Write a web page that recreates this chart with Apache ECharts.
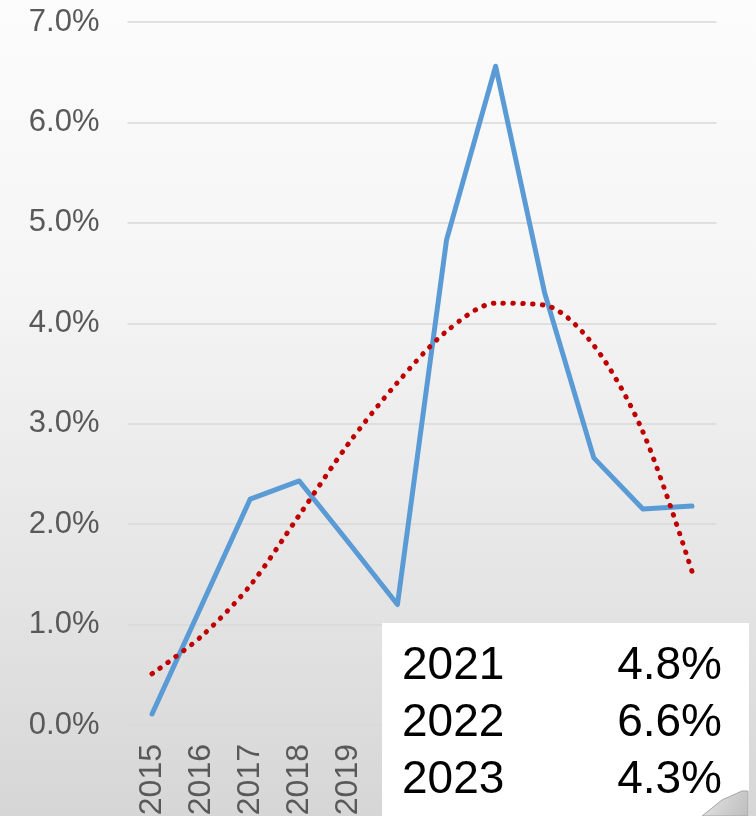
<!DOCTYPE html>
<html>
<head>
<meta charset="utf-8">
<script src="https://cdn.jsdelivr.net/npm/echarts@6/dist/echarts.min.js"></script>
<style>
  html, body { margin: 0; padding: 0; }
  #chart { width: 756px; height: 816px; }
</style>
</head>
<body>
<div id="chart"></div>
<script>
// categories and values (percent)
var years = ['2015', '2016', '2017', '2018', '2019', '2020', '2021', '2022', '2023', '2024', '2025', '2026'];
var growth = [0.11, 1.18, 2.25, 2.43, 1.82, 1.2, 4.83, 6.56, 4.3, 2.66, 2.15, 2.18];
var trend = [0.51, 0.88, 1.39, 2.09, 2.8, 3.41, 3.92, 4.2, 4.18, 3.78, 2.92, 1.53];
var yTicks = { min: 0, max: 7, step: 1 };

// overlay table rows
var boxYears = ['2021', '2022', '2023'];
var boxValues = ['4.8%', '6.6%', '4.3%'];

var chart = echarts.init(document.getElementById('chart'));

var boxText = [];
for (var i = 0; i < boxYears.length; i++) {
  boxText.push({
    type: 'text', left: 402, top: 643 + i * 57, z: 101,
    style: { text: boxYears[i], font: '46px "Liberation Sans", Arial, sans-serif', fill: '#000' }
  });
  boxText.push({
    type: 'text', right: 34, top: 643 + i * 57, z: 101,
    style: { text: boxValues[i], font: '46px "Liberation Sans", Arial, sans-serif', fill: '#000', textAlign: 'right' }
  });
}

chart.setOption({
  animation: false,
  backgroundColor: {
    type: 'linear', x: 0, y: 0, x2: 0, y2: 1,
    colorStops: [
      { offset: 0, color: '#fcfcfc' },
      { offset: 0.35, color: '#f5f5f5' },
      { offset: 0.75, color: '#e3e3e3' },
      { offset: 1, color: '#d6d6d6' }
    ]
  },
  grid: { left: 127.5, right: 39.5, top: 22, bottom: 91, outerBoundsMode: 'none' },
  xAxis: {
    type: 'category',
    data: years,
    boundaryGap: true,
    axisLine: { show: false },
    axisTick: { show: false },
    axisLabel: {
      rotate: 90, margin: 19, color: '#595959',
      fontSize: 32, fontFamily: '"Liberation Sans", Arial, sans-serif'
    }
  },
  yAxis: {
    type: 'value',
    min: yTicks.min, max: yTicks.max, interval: yTicks.step,
    axisLine: { show: false },
    axisTick: { show: false },
    splitLine: { lineStyle: { color: '#d9d9d9', width: 1.5 } },
    axisLabel: {
      margin: 28, color: '#595959',
      fontSize: 31, fontFamily: '"Liberation Sans", Arial, sans-serif',
      formatter: function (v) { return v.toFixed(1) + '%'; }
    }
  },
  series: [
    {
      name: 'growth', type: 'line', data: growth,
      symbol: 'none', z: 3,
      lineStyle: { color: '#5b9bd5', width: 5, cap: 'round', join: 'round' }
    },
    {
      name: 'trend', type: 'line', data: trend,
      symbol: 'none', smooth: 0.3, z: 4,
      lineStyle: { color: '#c00000', width: 5, type: [0.5, 9.3], cap: 'round' }
    }
  ],
  graphic: [
    {
      type: 'rect', z: 100,
      shape: { x: 382, y: 623, width: 367, height: 200 },
      style: { fill: '#ffffff' }
    },
    {
      type: 'polygon', z: 102,
      shape: { points: [[702, 816], [722, 800], [742, 791], [748, 791], [748, 816]] },
      style: {
        fill: {
          type: 'linear', x: 0, y: 0, x2: 1, y2: 1,
          colorStops: [{ offset: 0, color: '#e6e6e6' }, { offset: 1, color: '#bdbdbd' }]
        },
        stroke: '#a6a6a6', lineWidth: 1
      }
    }
  ].concat(boxText)
});
</script>
</body>
</html>
